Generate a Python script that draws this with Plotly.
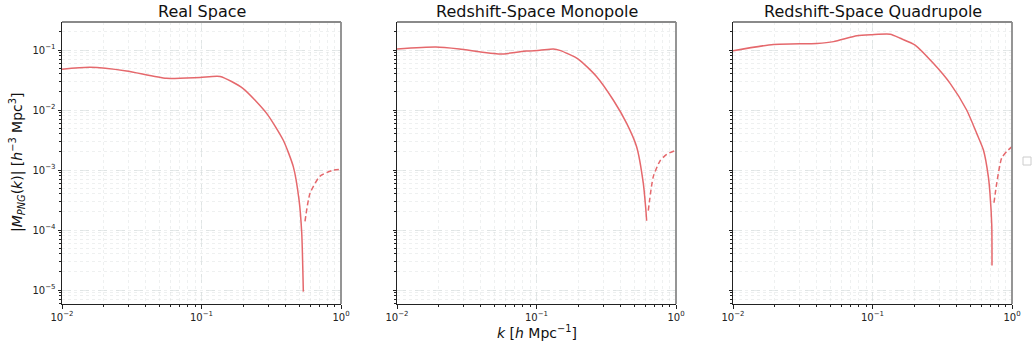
import plotly.graph_objects as go

# ---- data ----
titles = ["Real Space", "Redshift-Space Monopole", "Redshift-Space Quadrupole"]

k_real_pos = [0.010, 0.0159, 0.029, 0.056, 0.0975, 0.136, 0.198, 0.293, 0.385, 0.455, 0.50, 0.523, 0.537]
M_real_pos = [0.048, 0.0514, 0.0447, 0.0337, 0.035, 0.0363, 0.023, 0.0088, 0.00316, 0.00114, 3.2e-4, 8.9e-5, 9.4e-6]
k_real_neg = [0.552, 0.60, 0.707, 0.877, 1.0]
M_real_neg = [1.39e-4, 4.1e-4, 7.9e-4, 9.9e-4, 1.02e-3]

k_mono_pos = [0.010, 0.019, 0.028, 0.0546, 0.0848, 0.1057, 0.132, 0.147, 0.199, 0.27, 0.355, 0.443, 0.522, 0.583, 0.606, 0.616]
M_mono_pos = [0.104, 0.112, 0.104, 0.0858, 0.096, 0.0987, 0.104, 0.0987, 0.0708, 0.036, 0.0147, 0.006, 0.00245, 6e-4, 2.4e-4, 1.43e-4]
k_mono_neg = [0.633, 0.687, 0.767, 0.857, 0.984, 1.0]
M_mono_neg = [2.1e-4, 7.7e-4, 1.41e-3, 1.83e-3, 2.1e-3, 2.12e-3]

k_quad_pos = [0.010, 0.0195, 0.040, 0.0526, 0.0773, 0.0989, 0.134, 0.158, 0.202, 0.273, 0.36, 0.473, 0.558, 0.624, 0.677, 0.695, 0.716, 0.719]
M_quad_pos = [0.0975, 0.124, 0.129, 0.138, 0.173, 0.18, 0.183, 0.157, 0.121, 0.06, 0.0278, 0.01, 0.0041, 0.00215, 7.7e-4, 4.1e-4, 1.2e-4, 2.56e-5]
k_quad_neg = [0.743, 0.777, 0.843, 0.916, 1.0]
M_quad_neg = [2.85e-4, 6e-4, 1.58e-3, 2.03e-3, 2.45e-3]

x_tickvals = [0.01, 0.1, 1]
x_ticktext = ["10<sup>−2</sup>", "10<sup>−1</sup>", "10<sup>0</sup>"]
y_tickvals = [1e-5, 1e-4, 1e-3, 1e-2, 1e-1]
y_ticktext = ["10<sup>−5</sup>", "10<sup>−4</sup>", "10<sup>−3</sup>", "10<sup>−2</sup>", "10<sup>−1</sup>"]

LINE = "rgb(229,104,108)"
W, H = 1032, 347

fig = go.Figure()
panels = [
    (k_real_pos, M_real_pos, k_real_neg, M_real_neg),
    (k_mono_pos, M_mono_pos, k_mono_neg, M_mono_neg),
    (k_quad_pos, M_quad_pos, k_quad_neg, M_quad_neg),
]
px_x = [(62, 341), (397, 676), (733, 1012)]
y_top, y_bot = 22, 304

for i, (kp, mp, kn, mn) in enumerate(panels):
    ax = "" if i == 0 else str(i + 1)
    fig.add_trace(go.Scatter(x=kp, y=mp, mode="lines",
                             line=dict(color=LINE, width=1.5, shape="spline", smoothing=0.6),
                             xaxis="x" + ax, yaxis="y" + ax, showlegend=False))
    fig.add_trace(go.Scatter(x=kn, y=mn, mode="lines",
                             line=dict(color=LINE, width=1.5, dash="5px,3px", shape="spline", smoothing=0.6),
                             xaxis="x" + ax, yaxis="y" + ax, showlegend=False))

grid_col = "rgba(205,212,212,0.45)"
minor_grid = "rgba(205,212,212,0.35)"
for i in range(3):
    ax = "" if i == 0 else str(i + 1)
    x0, x1 = px_x[i]
    common = dict(showline=True, linecolor="#222", linewidth=1, mirror=False,
                  ticks="outside", ticklen=3.5, tickwidth=0.8, tickcolor="#222",
                  showgrid=True, gridcolor=grid_col, griddash="dash", gridwidth=0.8,
                  zeroline=False, automargin=False,
                  tickfont=dict(family="DejaVu Sans", size=10, color="#222"))
    minor = dict(dtick="D1", ticks="outside", ticklen=2, tickwidth=0.6, tickcolor="#222",
                 showgrid=True, gridcolor=minor_grid, griddash="dot", gridwidth=0.6)
    fig.layout["xaxis" + ax] = dict(type="log", range=[-2, 0], domain=[x0 / W, x1 / W],
                                    anchor="y" + ax, tickvals=x_tickvals, ticktext=x_ticktext,
                                    minor=minor, **common)
    fig.layout["yaxis" + ax] = dict(type="log", range=[-5.233, -0.533],
                                    domain=[1 - y_bot / H, 1 - y_top / H],
                                    anchor="x" + ax, tickvals=y_tickvals, ticktext=y_ticktext,
                                    showticklabels=(i == 0),
                                    minor=minor, **common)
    # top and right spines (grey, slightly heavier)
    fig.add_shape(type="line", x0=x0 / W, x1=x1 / W, y0=1 - y_top / H, y1=1 - y_top / H,
                  xref="paper", yref="paper", line=dict(color="#8a8a8a", width=1.8))
    fig.add_shape(type="line", x0=x1 / W, x1=x1 / W, y0=1 - y_top / H, y1=1 - y_bot / H,
                  xref="paper", yref="paper", line=dict(color="#8a8a8a", width=1.8))
    fig.add_annotation(text=titles[i], x=(x0 + x1) / 2 / W, y=1 - 11 / H, xref="paper", yref="paper",
                       showarrow=False, xanchor="center", yanchor="middle",
                       font=dict(family="DejaVu Sans", size=16, color="#111"))

fig.add_annotation(text="<i>k</i> [<i>h</i> Mpc<sup>−1</sup>]", x=536.5 / W, y=1 - 332 / H,
                   xref="paper", yref="paper", showarrow=False, xanchor="center", yanchor="middle",
                   font=dict(family="DejaVu Sans", size=14, color="#111"))
fig.add_annotation(text="|<i>M<sub>PNG</sub></i>(<i>k</i>)| [<i>h</i><sup>−3</sup> Mpc<sup>3</sup>]",
                   x=17 / W, y=1 - 163 / H, xref="paper", yref="paper", showarrow=False,
                   textangle=-90, xanchor="center", yanchor="middle",
                   font=dict(family="DejaVu Sans", size=14, color="#111"))

# empty legend box
fig.add_shape(type="rect", x0=1023 / W, x1=1031 / W, y0=1 - 165 / H, y1=1 - 157 / H,
              xref="paper", yref="paper", line=dict(color="#ccc", width=1), fillcolor="white")

fig.update_layout(width=W, height=H, margin=dict(l=0, r=0, t=0, b=0),
                  plot_bgcolor="white", paper_bgcolor="white", showlegend=False)
fig.write_html("out.html")
